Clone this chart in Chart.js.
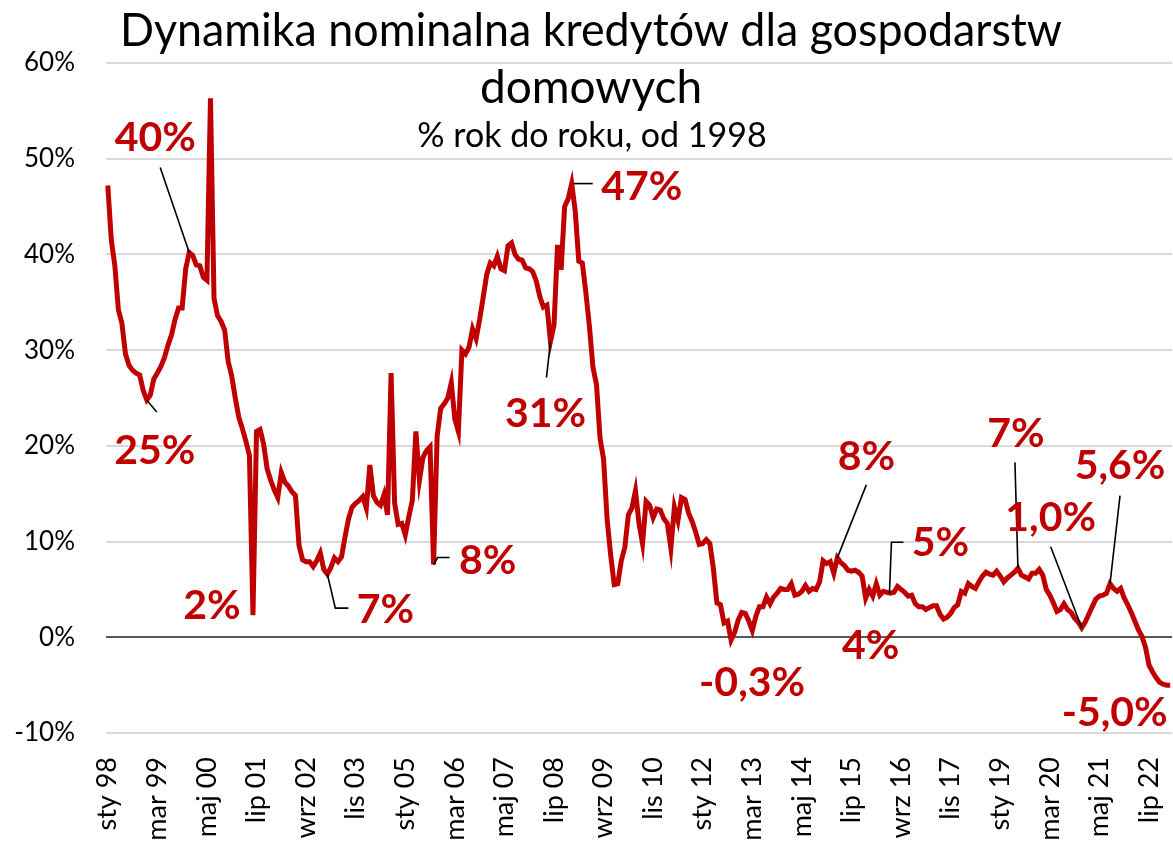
<!DOCTYPE html>
<html lang="pl">
<head>
<meta charset="utf-8">
<title>Dynamika nominalna kredytów dla gospodarstw domowych</title>
<script src="https://cdn.jsdelivr.net/npm/chart.js@4.4.1/dist/chart.umd.min.js"></script>
<style>
  html, body { margin: 0; padding: 0; background: #fff; }
  canvas { display: block; }
</style>
</head>
<body>
<canvas id="loans" width="1173" height="843"></canvas>
<script>
// miesiące i lata osi X
const monthNames = ["sty", "lut", "mar", "kwi", "maj", "cze", "lip", "sie", "wrz", "paź", "lis", "gru"];
const firstYear = 1998;
const labelEvery = 14; // podpis co 14 miesięcy

// dynamika r/r w %, miesięcznie od stycznia 1998
const growth = [
  47.2, 41.5, 38.8, 34.2, 32.8, 29.6, 28.4, 27.9, 27.6, 27.4, 25.8, 24.8, // 1998
  25.3, 27.0, 27.6, 28.3, 29.2, 30.5, 31.6, 33.2, 34.4, 34.4, 38.5, 40.2, // 1999
  39.9, 38.9, 38.8, 37.6, 37.3, 56.3, 35.4, 33.6, 33.0, 32.1, 28.8, 27.3, // 2000
  25.0, 23.0, 21.8, 20.5, 19.0, 2.3, 21.5, 21.7, 20.2, 17.6, 16.4, 15.4,  // 2001
  14.6, 17.2, 16.2, 15.8, 15.2, 14.8, 9.6, 8.1, 7.9, 7.9, 7.4, 8.0,       // 2002
  8.8, 7.1, 6.6, 7.3, 8.3, 7.9, 8.4, 10.5, 12.4, 13.6, 14.0, 14.3,        // 2003
  14.7, 13.5, 18.0, 14.8, 14.1, 13.8, 14.9, 12.8, 27.6, 14.0, 11.8, 11.9, // 2004
  10.7, 12.6, 14.3, 21.5, 16.4, 18.8, 19.5, 19.9, 7.6, 21.0, 23.9, 24.4,  // 2005
  25.0, 26.6, 22.8, 21.5, 30.0, 29.6, 30.3, 32.2, 31.2, 33.2, 35.5, 37.9, // 2006
  39.1, 38.8, 39.8, 38.5, 38.3, 40.9, 41.2, 40.0, 39.5, 39.4, 38.6, 38.5, // 2007
  38.2, 37.2, 35.6, 34.5, 34.7, 30.9, 32.6, 41.0, 38.4, 45.0, 45.8, 47.4, // 2008
  44.5, 39.3, 39.1, 36.0, 32.5, 28.2, 26.4, 20.8, 18.6, 12.3, 8.6, 5.5,   // 2009
  5.6, 8.0, 9.4, 12.8, 13.5, 15.3, 11.9, 9.8, 14.2, 13.8, 12.5, 13.4,     // 2010
  13.3, 12.4, 11.9, 9.3, 13.6, 12.2, 14.6, 14.4, 13.0, 12.1, 11.0, 9.7,   // 2011
  9.8, 10.2, 9.8, 7.2, 3.6, 3.4, 1.5, 1.7, -0.3, 0.5, 1.8, 2.6,           // 2012
  2.5, 1.7, 0.7, 2.2, 3.2, 3.2, 4.2, 3.5, 4.2, 4.6, 5.1, 5.0,             // 2013
  5.0, 5.6, 4.4, 4.5, 4.8, 5.4, 4.8, 5.1, 5.0, 5.8, 8.0, 7.7,             // 2014
  7.9, 6.7, 8.3, 7.8, 7.5, 7.0, 6.9, 7.0, 6.8, 6.4, 4.1, 5.0,             // 2015
  4.3, 5.6, 4.4, 4.8, 4.7, 4.6, 4.7, 5.3, 5.0, 4.7, 4.3, 4.4,             // 2016
  3.5, 3.2, 3.2, 2.9, 3.1, 3.3, 3.3, 2.4, 1.9, 2.1, 2.5, 3.1,             // 2017
  3.4, 4.8, 4.6, 5.6, 5.3, 5.1, 5.8, 6.4, 6.8, 6.6, 6.5, 6.9,             // 2018
  6.4, 5.8, 6.2, 6.5, 6.8, 7.2, 6.5, 6.3, 6.1, 6.7, 6.7, 7.1,             // 2019
  6.5, 5.0, 4.4, 3.6, 2.7, 2.9, 3.5, 2.9, 2.6, 2.0, 1.6, 1.0,             // 2020
  1.6, 2.4, 3.2, 4.0, 4.3, 4.4, 4.6, 5.6, 5.1, 4.8, 5.1, 4.1,             // 2021
  3.4, 2.6, 1.7, 0.8, 0.1, -1.0, -2.9, -3.6, -4.2, -4.7, -4.9, -5.0,      // 2022
  -5.0                                                                    // 2023
];

const categories = growth.map((_, k) =>
  monthNames[k % 12] + " " + String((firstYear + Math.floor(k / 12)) % 100).padStart(2, "0"));

const yTicks = [-10, 0, 10, 20, 30, 40, 50, 60];

// podpisane punkty: indeks miesiąca i liczba miejsc po przecinku
const calloutPoints = [23, 11, 41, 62, 92, 125, 131, 176, 206, 214, 221, 257, 275, 283, 299];
const calloutDecimals = [0, 0, 0, 0, 0, 0, 0, 1, 0, 0, 0, 0, 1, 1, 1];

// położenie podpisu względem punktu i linia odnośnika
const calloutLayout = [
  { dx: -34, dy: -115, leader: [[0, 0], [-29, -85]] },
  { dx: 8, dy: 51, leader: [[0, 0], [10, 12]] },
  { dx: -41, dy: -9, leader: null },
  { dx: 58, dy: 36, leader: [[0, 0], [8, 34], [21, 34]] },
  { dx: 54, dy: -4, leader: [[0, 0], [4, -7], [16, -7]] },
  { dx: -5, dy: 72, leader: [[0, 0], [-4, 36]] },
  { dx: 70, dy: 3, leader: [[2, 0], [21, 0]] },
  { dx: 21, dy: 43, leader: null },
  { dx: 29, dy: -101, leader: [[0, 0], [29, -73]] },
  { dx: 5, dy: 48, leader: null },
  { dx: 50, dy: -50, leader: [[-1, 0], [1, -51], [13, -51]] },
  { dx: -2, dy: -135, leader: [[0, 0], [-3, -106]] },
  { dx: -31, dy: -110, leader: [[0, 0], [-31, -81]] },
  { dx: 10, dy: -118, leader: [[0, 0], [10, -88]] },
  { dx: -52, dy: 28, leader: null }
];

const RED = "#C00000";
const FONT = "Lato, 'Open Sans', sans-serif";

function pct(v, decimals) {
  return v.toFixed(decimals).replace(".", ",") + "%";
}

// tytuł rysowany na wykresie
const titlePlugin = {
  id: "titleOverlay",
  afterDraw(chart) {
    const ctx = chart.ctx;
    const cx = 591;
    ctx.save();
    ctx.fillStyle = "#000";
    ctx.textAlign = "center";
    ctx.textBaseline = "alphabetic";
    ctx.font = "46px " + FONT;
    ctx.fillText("Dynamika nominalna kredytów dla gospodarstw", cx, 46, 942);
    ctx.fillText("domowych", cx, 103);
    ctx.font = "34px " + FONT;
    ctx.fillText("% rok do roku, od 1998", 592, 147);
    ctx.restore();
  }
};

// podpisy wartości z odnośnikami
const calloutPlugin = {
  id: "callouts",
  afterDatasetsDraw(chart) {
    const ctx = chart.ctx;
    const xs = chart.scales.x;
    const ys = chart.scales.y;
    ctx.save();
    calloutPoints.forEach((at, n) => {
      const lay = calloutLayout[n];
      const px = xs.getPixelForValue(at);
      const py = ys.getPixelForValue(growth[at]);
      if (lay.leader) {
        ctx.strokeStyle = "#000";
        ctx.lineWidth = 1.6;
        ctx.beginPath();
        lay.leader.forEach(([lx, ly], j) => {
          if (j === 0) ctx.moveTo(px + lx, py + ly);
          else ctx.lineTo(px + lx, py + ly);
        });
        ctx.stroke();
      }
      ctx.fillStyle = RED;
      ctx.font = "bold 41px " + FONT;
      ctx.textAlign = "center";
      ctx.textBaseline = "middle";
      ctx.fillText(pct(growth[at], calloutDecimals[n]), px + lay.dx, py + lay.dy);
    });
    ctx.restore();
  }
};

new Chart(document.getElementById("loans"), {
  type: "line",
  data: {
    labels: categories,
    datasets: [{
      data: growth,
      borderColor: RED,
      borderWidth: 5,
      pointRadius: 0,
      tension: 0,
      fill: false
    }]
  },
  options: {
    responsive: false,
    animation: false,
    devicePixelRatio: 1,
    layout: { padding: { top: 63, right: 1, left: 0, bottom: 0 } },
    plugins: { legend: { display: false }, tooltip: { enabled: false } },
    scales: {
      x: {
        type: "category",
        offset: true,
        grid: { display: false, drawTicks: false },
        border: { display: false },
        afterFit(scale) {
          scale.height = 110;
          scale.paddingLeft = 0;
          scale.paddingRight = 0;
        },
        ticks: {
          autoSkip: false,
          minRotation: 90,
          maxRotation: 90,
          padding: 24,
          color: "#000",
          font: { family: FONT, size: 27 },
          callback(value, index) {
            return index % labelEvery === 0 ? this.getLabelForValue(value) : null;
          }
        }
      },
      y: {
        min: yTicks[0],
        max: yTicks[yTicks.length - 1],
        afterFit(scale) { scale.width = 106; },
        afterBuildTicks(scale) { scale.ticks = yTicks.map(v => ({ value: v })); },
        grid: {
          drawTicks: false,
          lineWidth: 2,
          color: ctx => ctx.tick && ctx.tick.value === 0 ? "#595959" : "#d9d9d9"
        },
        border: { display: false },
        ticks: {
          padding: 31,
          color: "#000",
          font: { family: FONT, size: 26 },
          callback: v => v + "%"
        }
      }
    }
  },
  plugins: [titlePlugin, calloutPlugin]
});
</script>
</body>
</html>
